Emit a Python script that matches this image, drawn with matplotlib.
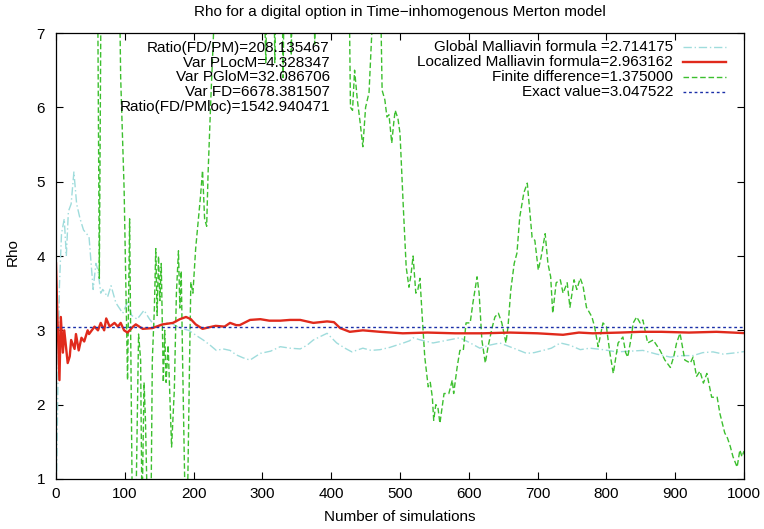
import matplotlib
matplotlib.use('Agg')
import matplotlib.pyplot as plt

plt.rcParams['font.family'] = ['Liberation Sans', 'DejaVu Sans']

# Global Malliavin formula (cyan)
glo_x = [1, 3, 5, 8, 12, 15, 18, 22, 26, 30, 35, 40, 48, 54, 58, 61, 65, 68, 75, 80, 87, 92, 97,
         104, 110, 118, 128, 136, 145, 152, 160, 167, 180, 193, 204, 214, 224, 233, 243, 253, 262,
         272, 282, 297, 312, 326, 340, 355, 365, 374, 385, 394, 408, 420, 430, 446, 458, 471, 485,
         495, 505, 514, 519, 530, 548, 565, 587, 600, 616, 630, 645, 665, 684, 695, 708, 720, 733,
         747, 762, 776, 795, 815, 835, 853, 873, 893, 910, 926, 940, 955, 970, 980, 990, 1000]
glo_y = [1.1, 2.4, 3.6, 4.3, 4.5, 4.0, 4.6, 4.7, 5.13, 4.7, 4.5, 4.35, 4.26, 3.55, 3.9, 3.81, 3.5,
         3.55, 3.45, 3.6, 3.37, 3.3, 3.23, 3.38, 3.2, 3.15, 3.27, 3.15, 3.04, 3.08, 3.1, 3.1, 3.03,
         3.0, 2.93, 2.87, 2.8, 2.73, 2.75, 2.73, 2.67, 2.63, 2.6, 2.69, 2.72, 2.78, 2.76, 2.75, 2.8,
         2.87, 2.92, 2.96, 2.83, 2.76, 2.71, 2.76, 2.73, 2.74, 2.77, 2.8, 2.83, 2.86, 2.9, 2.87,
         2.83, 2.86, 2.9, 2.84, 2.76, 2.8, 2.83, 2.76, 2.69, 2.7, 2.73, 2.76, 2.83, 2.8, 2.74, 2.76,
         2.74, 2.71, 2.72, 2.73, 2.68, 2.64, 2.66, 2.66, 2.7, 2.71, 2.68, 2.69, 2.7, 2.714]

# Localized Malliavin formula (red)
loc_x = [0, 2, 5, 7, 10, 12, 17, 20, 22, 27, 29, 33, 37, 41, 46, 48, 56, 61, 65, 70, 73, 78, 85,
         90, 94, 99, 104, 107, 112, 116, 126, 140, 155, 170, 180, 189, 196, 203, 213, 222, 232,
         245, 253, 262, 267, 282, 297, 310, 326, 340, 355, 374, 394, 404, 413, 427, 446, 471,
         504, 540, 580, 620, 660, 700, 737, 760, 780, 820, 850, 880, 920, 960, 1000]
loc_y = [3.9, 3.2, 2.33, 3.18, 2.7, 3.0, 2.56, 2.65, 2.87, 2.75, 2.95, 2.73, 2.9, 2.85, 3.0,
         2.95, 3.05, 3.0, 3.1, 3.0, 3.16, 3.05, 3.1, 3.05, 3.1, 3.0, 2.97, 3.0, 3.05, 3.08, 3.02,
         3.03, 3.08, 3.1, 3.15, 3.18, 3.15, 3.08, 3.02, 3.04, 3.06, 3.05, 3.1, 3.07, 3.07, 3.14,
         3.15, 3.13, 3.13, 3.14, 3.14, 3.1, 3.12, 3.11, 3.03, 2.98, 3.0, 2.98, 2.96, 2.97, 2.96,
         2.96, 2.97, 2.96, 2.94, 2.97, 2.96, 2.97, 2.98, 2.98, 2.97, 2.98, 2.963]

# Finite difference (green)
fd_x = [0, 60, 63, 66, 91, 94, 99, 104, 107, 111, 116, 120, 123, 125, 128, 130, 133, 138, 140,
        143, 145, 147, 149, 151, 153, 156, 158, 160, 163, 168, 172, 175, 178, 180, 182, 184, 187,
        191, 194, 196, 199, 203, 207, 210, 213, 216, 219, 221, 225, 229, 233, 300, 305, 308, 316,
        318, 321, 328, 330, 333, 340, 342, 345, 374, 376, 378, 425, 428, 431, 434, 438, 442, 446,
        450, 455, 459, 462, 470, 474, 478, 481, 484, 488, 491, 493, 497, 500, 505, 509, 513, 516,
        519, 523, 526, 529, 532, 536, 541, 544, 547, 549, 552, 555, 558, 561, 564, 571, 576, 578,
        583, 587, 592, 596, 602, 606, 612, 615, 619, 624, 628, 634, 638, 643, 648, 654, 657, 661,
        666, 670, 674, 680, 685, 688, 692, 696, 701, 705, 711, 715, 719, 722, 727, 733, 737, 743,
        747, 753, 757, 762, 766, 771, 779, 783, 788, 795, 800, 805, 810, 817, 824, 828, 831, 836,
        839, 844, 849, 853, 860, 868, 873, 878, 885, 893, 898, 902, 907, 914, 922, 926, 931, 936,
        941, 946, 953, 961, 965, 972, 976, 980, 984, 990, 994, 997, 1000]
fd_y = [8.5, 8.5, 3.7, 8.5, 8.5, 6.4, 4.9, 2.33, 4.5, 0.5, 0.5, 2.95, 2.6, 0.5, 2.3, 1.8, 0.5,
        0.5, 2.6, 3.3, 4.1, 3.2, 4.0, 3.4, 3.9, 2.3, 3.0, 2.3, 2.8, 1.43, 2.2, 3.5, 4.07, 3.3, 3.8,
        2.6, 1.0, 0.6, 2.5, 3.65, 3.5, 4.1, 4.5, 4.8, 5.15, 4.5, 4.4, 5.1, 6.1, 7.0, 8.5, 8.5, 6.6,
        8.5, 8.5, 6.6, 8.5, 8.5, 6.4, 8.5, 8.5, 6.7, 8.5, 8.5, 6.85, 8.5, 8.5, 6.0, 5.96, 6.5, 6.1,
        5.8, 5.47, 6.0, 6.2, 7.0, 8.5, 8.5, 6.23, 6.1, 5.87, 5.9, 5.52, 5.8, 5.96, 5.85, 5.65, 4.62,
        3.85, 3.58, 3.75, 4.0, 3.5, 3.55, 3.7, 3.23, 2.64, 2.24, 2.3, 2.1, 1.79, 2.0, 1.97, 1.75,
        1.95, 2.15, 2.15, 2.33, 2.15, 2.5, 2.73, 2.73, 3.1, 3.1, 3.37, 3.72, 3.5, 2.87, 2.56, 2.78,
        3.04, 3.18, 3.23, 3.1, 2.83, 3.05, 3.54, 3.9, 4.04, 4.52, 4.85, 4.98, 4.66, 4.25, 4.21,
        3.81, 3.98, 4.3, 3.9, 3.72, 3.23, 3.64, 3.68, 3.5, 3.64, 3.31, 3.68, 3.55, 3.7, 3.6, 3.31,
        3.18, 3.04, 2.78, 3.1, 3.05, 2.7, 2.42, 2.83, 2.91, 2.7, 2.64, 2.9, 3.1, 3.18, 3.1, 3.14,
        2.83, 2.87, 2.8, 2.73, 2.6, 2.5, 2.65, 2.83, 2.96, 2.6, 2.56, 2.64, 2.38, 2.45, 2.29, 2.42,
        2.1, 2.1, 1.88, 1.62, 1.55, 1.44, 1.3, 1.16, 1.39, 1.3, 1.375]

# Exact value
exact_x = [0, 1000]
exact_y = [3.047522, 3.047522]

legend_labels = ['Global Malliavin formula =2.714175', 'Localized Malliavin formula=2.963162',
                 'Finite difference=1.375000', 'Exact value=3.047522']
info_labels = ['Ratio(FD/PM)=208.135467', 'Var PLocM=4.328347', 'Var PGloM=32.086706',
               'Var FD=6678.381507', 'Ratio(FD/PMloc)=1542.940471']

fig = plt.figure(figsize=(7.64, 5.29), dpi=100)
ax = fig.add_axes([56 / 764, 50 / 529, 688 / 764, 446 / 529])

styles = [
    dict(color='#9fdcdc', lw=1.0, ls=(0, (6, 2, 1, 2))),
    dict(color='#e02a1c', lw=1.7, ls='-'),
    dict(color='#3cbf2e', lw=1.0, ls=(0, (4, 2))),
    dict(color='#1a2fa8', lw=1.0, ls=(0, (2, 2))),
]

ax.plot(glo_x, glo_y, **styles[0])
ax.plot(fd_x, fd_y, **styles[2])
ax.plot(loc_x, loc_y, **styles[1])
ax.plot(exact_x, exact_y, **styles[3])

ax.set_xlim(0, 1000)
ax.set_ylim(1, 7)
ax.set_xticks(range(0, 1001, 100))
ax.set_yticks(range(1, 8))
ax.tick_params(direction='in', length=5, width=0.8, top=True, right=True, labelsize=11)
ax.tick_params(axis='x', pad=6)
ax.tick_params(axis='y', pad=8)
for s in ax.spines.values():
    s.set_linewidth(0.9)

# legend drawn gnuplot style: text right-aligned, sample on the right
leg_y = [0.969, 0.935, 0.901, 0.868]
for lab, st, yy in zip(legend_labels, styles, leg_y):
    ax.text(0.897, yy, lab, transform=ax.transAxes, ha='right', va='center', fontsize=11)
    ax.plot([0.911, 0.974], [yy, yy], transform=ax.transAxes, clip_on=False, **st)

info_y = [0.966, 0.933, 0.901, 0.868, 0.834]
for lab, yy in zip(info_labels, info_y):
    ax.text(0.398, yy, lab, transform=ax.transAxes, ha='right', va='center', fontsize=11)

fig.text(400 / 764, 1 - 12 / 529, 'Rho for a digital option in Time\u2212inhomogenous Merton model',
         ha='center', va='center', fontsize=11)
fig.text(400 / 764, 1 - 517 / 529, 'Number of simulations', ha='center', va='center', fontsize=11)
fig.text(13 / 764, 1 - 252 / 529, 'Rho', ha='center', va='center', rotation=90, fontsize=11)

fig.savefig('out.png', dpi=100)
